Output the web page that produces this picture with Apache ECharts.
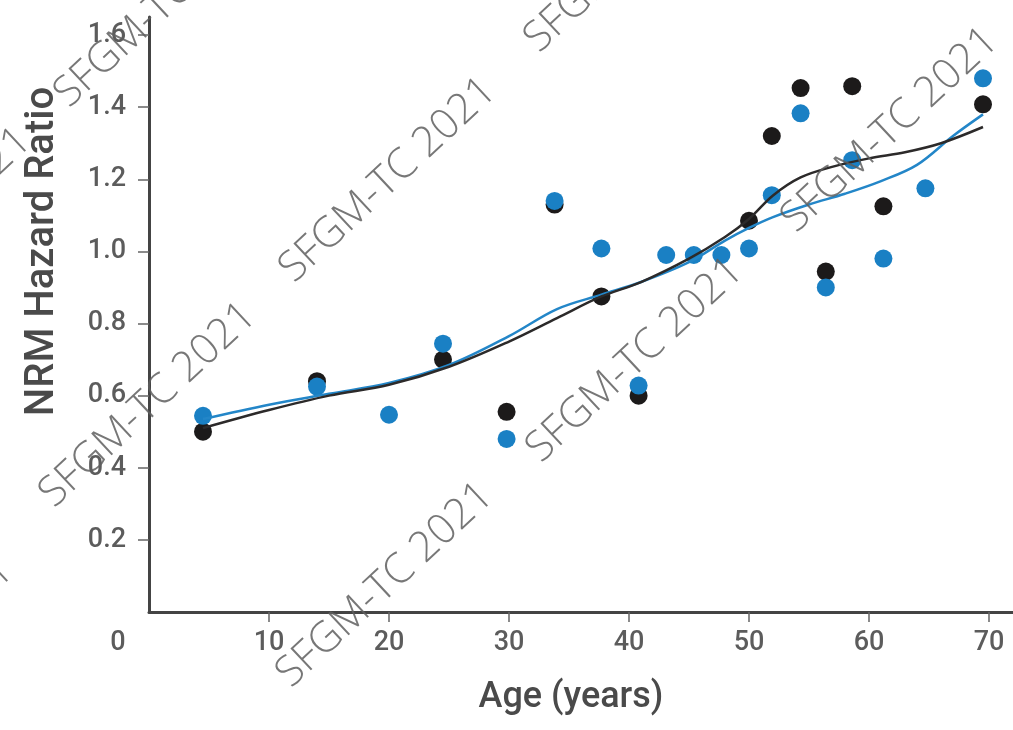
<!DOCTYPE html>
<html>
<head>
<meta charset="utf-8">
<script src="https://cdn.jsdelivr.net/npm/echarts@6/dist/echarts.min.js"></script>
<style>
  html, body { margin: 0; padding: 0; background: #fff; }
  #chart { width: 1013px; height: 730px; }
</style>
</head>
<body>
<div id="chart"></div>
<script>
// Observed hazard ratios by age, two cohorts
const ageBlack = [4.5, 14.0, 24.5, 29.8, 33.8, 37.7, 40.8, 50.0, 51.9, 54.3, 56.4, 58.6, 61.2, 69.5];
const hrBlack  = [0.50, 0.64, 0.70, 0.555, 1.13, 0.875, 0.60, 1.085, 1.32, 1.453, 0.944, 1.458, 1.125, 1.408];

const ageBlue = [4.5, 14.0, 20.0, 24.5, 29.8, 33.8, 37.7, 40.8, 43.1, 45.4, 47.7, 50.0, 51.9, 54.3, 56.4, 58.6, 61.2, 64.7, 69.5];
const hrBlue  = [0.544, 0.625, 0.547, 0.744, 0.48, 1.14, 1.008, 0.628, 0.99, 0.99, 0.99, 1.008, 1.156, 1.383, 0.90, 1.253, 0.98, 1.175, 1.48];

// Smoothed trend curves
const fitAgeBlack = [4.5, 10, 15, 20, 25, 30, 34, 37.7, 41, 45, 48, 50, 52, 54.3, 57, 60, 63, 66, 69.5];
const fitHrBlack  = [0.51, 0.56, 0.60, 0.63, 0.68, 0.75, 0.815, 0.875, 0.915, 0.98, 1.04, 1.09, 1.155, 1.205, 1.235, 1.258, 1.275, 1.30, 1.345];
const fitAgeBlue  = [4.5, 10, 15, 20, 25, 30, 34, 37.7, 41, 45, 48, 50, 52, 55, 58, 61, 64, 67, 69.5];
const fitHrBlue   = [0.535, 0.575, 0.605, 0.635, 0.685, 0.765, 0.84, 0.88, 0.915, 0.97, 1.03, 1.065, 1.095, 1.13, 1.16, 1.195, 1.24, 1.32, 1.38];

// Tick labels
const xTicks = [0, 10, 20, 30, 40, 50, 60, 70];
const yTicks = [0.2, 0.4, 0.6, 0.8, 1.0, 1.2, 1.4, 1.6];

const watermarkText = 'SFGM-TC 2021';

const zip = (a, b) => a.map((v, i) => [v, b[i]]);

const BLUE = '#1a80c4';
const BLACK = '#1c1a1a';
const AXIS = '#444';
const LABEL = '#5c5c5c';
const FONT = 'Roboto, "Liberation Sans", sans-serif';

// watermark centres, repeated diagonally across the page
const marks = [
  [388, 180], [148, 405], [385, 585], [635, 360], [890, 130],
  [163, 5], [633, -50], [-77, 230], [-95, 660], [120, 835]
];

const chart = echarts.init(document.getElementById('chart'), null, { renderer: 'canvas' });

chart.setOption({
  backgroundColor: '#fff',
  animation: false,
  grid: { left: 149, right: 0, top: 17, bottom: 118, containLabel: false },
  xAxis: {
    type: 'value',
    min: 0,
    max: 72,
    name: 'Age (years)',
    nameLocation: 'middle',
    nameGap: 68,
    nameTextStyle: { fontFamily: FONT, fontSize: 36, fontWeight: 500, color: '#4a4a4a', padding: [0, 20, 0, 0] },
    axisLine: { show: true, lineStyle: { color: AXIS, width: 3 } },
    axisTick: { show: true, length: 10, customValues: xTicks.slice(1), lineStyle: { color: '#666', width: 1.5 } },
    axisLabel: {
      customValues: xTicks,
      margin: 18,
      fontFamily: FONT,
      fontSize: 27,
      fontWeight: 500,
      color: LABEL,
      formatter: v => (v === 0 ? '{z|0}' : String(v)),
      rich: { z: { fontFamily: FONT, fontSize: 27, fontWeight: 500, color: LABEL, padding: [0, 62, 0, 0] } }
    },
    splitLine: { show: false }
  },
  yAxis: {
    type: 'value',
    min: 0,
    max: 1.65,
    name: 'NRM Hazard Ratio',
    nameLocation: 'middle',
    nameGap: 86,
    nameTextStyle: { fontFamily: FONT, fontSize: 40, fontWeight: 500, color: '#4a4a4a', padding: [0, 0, 0, 126] },
    axisLine: { show: true, lineStyle: { color: AXIS, width: 3 } },
    axisTick: { show: true, length: 11, customValues: yTicks, lineStyle: { color: '#666', width: 1.5 } },
    axisLabel: {
      customValues: yTicks,
      margin: 23,
      fontFamily: FONT,
      fontSize: 27,
      fontWeight: 500,
      color: LABEL,
      formatter: v => v.toFixed(1)
    },
    splitLine: { show: false }
  },
  series: [
    {
      type: 'scatter',
      data: zip(ageBlack, hrBlack),
      symbolSize: 18,
      itemStyle: { color: BLACK, opacity: 1 },
      z: 2
    },
    {
      type: 'scatter',
      data: zip(ageBlue, hrBlue),
      symbolSize: 18,
      itemStyle: { color: BLUE, opacity: 1 },
      z: 3
    },
    {
      type: 'line',
      data: zip(fitAgeBlue, fitHrBlue),
      smooth: 0.35,
      showSymbol: false,
      lineStyle: { color: '#2386c8', width: 2.5 },
      z: 4
    },
    {
      type: 'line',
      data: zip(fitAgeBlack, fitHrBlack),
      smooth: 0.35,
      showSymbol: false,
      lineStyle: { color: '#2c2a2a', width: 2.5 },
      z: 5
    }
  ],
  graphic: marks.map(([x, y]) => ({
    type: 'text',
    x: x,
    y: y,
    rotation: 0.75,
    z: 100,
    silent: true,
    style: {
      text: watermarkText,
      fontFamily: '"Open Sans", "DejaVu Sans", sans-serif',
      fontWeight: 300,
      fontSize: 42,
      fill: 'rgba(95,95,95,0.85)',
      align: 'center',
      verticalAlign: 'middle'
    }
  }))
});
</script>
</body>
</html>
